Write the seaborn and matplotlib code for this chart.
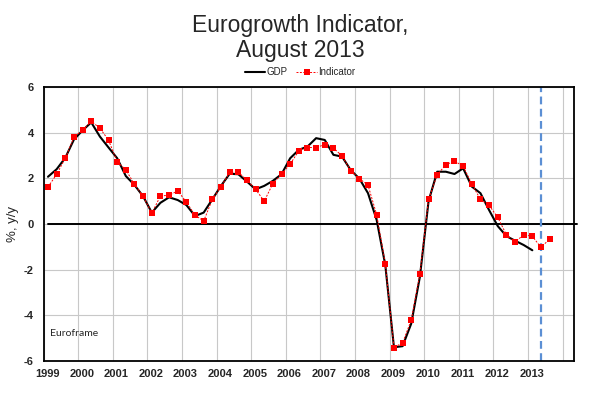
import pandas as pd
import numpy as np
import matplotlib
matplotlib.use("Agg")
import matplotlib.pyplot as plt
import matplotlib.transforms as mtrans
import seaborn as sns

# quarterly data, % y/y
quarters = pd.period_range("1999Q1", "2013Q3", freq="Q")
indicator = [1.62, 2.18, 2.88, 3.80, 4.12, 4.50, 4.20, 3.67,
             2.73, 2.37, 1.74, 1.21, 0.47, 1.23, 1.26, 1.45,
             0.96, 0.39, 0.13, 1.08, 1.64, 2.26, 2.27, 1.92,
             1.52, 1.00, 1.77, 2.18, 2.63, 3.20, 3.35, 3.35,
             3.48, 3.33, 2.98, 2.34, 1.99, 1.70, 0.41, -1.74,
             -5.41, -5.20, -4.21, -2.18, 1.08, 2.15, 2.60, 2.75,
             2.54, 1.75, 1.08, 0.82, 0.29, -0.47, -0.79, -0.47,
             -0.54, -1.02, -0.66]
gdp = [2.07, 2.40, 2.90, 3.70, 4.10, 4.45, 3.83, 3.35,
       2.88, 2.10, 1.71, 1.21, 0.50, 0.93, 1.17, 1.05,
       0.83, 0.35, 0.50, 1.08, 1.67, 2.20, 2.18, 1.86,
       1.52, 1.67, 1.89, 2.18, 2.88, 3.25, 3.39, 3.76,
       3.68, 3.03, 2.95, 2.36, 1.99, 1.35, 0.18, -1.80,
       -5.40, -5.35, -4.36, -2.31, 1.00, 2.29, 2.29, 2.19,
       2.44, 1.64, 1.35, 0.61, -0.09, -0.53, -0.73, -0.92,
       -1.15]
years = list(range(1999, 2014))
last_obs = pd.Period("2013Q2", freq="Q")

# mid-quarter position in decimal years
t = quarters.year + (quarters.quarter - 0.5) / 4
df_ind = pd.DataFrame({"t": t, "v": indicator})
df_gdp = pd.DataFrame({"t": t[:len(gdp)], "v": gdp})

sns.set_style("white")
plt.rcParams["font.family"] = ["Liberation Sans", "DejaVu Sans"]

fig = plt.figure(figsize=(6, 3.93), dpi=100)
ax = fig.add_axes([0.0728, 0.0814, 0.8839, 0.6972])

sns.lineplot(data=df_gdp, x="t", y="v", ax=ax, color="black", lw=1.5, label="GDP")
sns.lineplot(data=df_ind, x="t", y="v", ax=ax, color="red", lw=0.7,
             linestyle=(0, (2, 1.5)), marker="s", markersize=4.0,
             markeredgewidth=0, label="Indicator")

ax.axhline(0, xmin=0.008, xmax=1.005, color="black", lw=1.4, clip_on=False, zorder=1)
vx = last_obs.year + (last_obs.quarter - 0.5) / 4
ax.axvline(vx, color="#5b8fd4", lw=1.6, linestyle=(0, (3.5, 2)), zorder=1)

ax.set_xlim(1999, 2014.33)
ax.set_ylim(-6, 6)
ax.set_xticks(years + [2014])
ax.set_xticklabels([str(y) for y in years] + [""], fontsize=8, fontweight="bold")
ax.set_yticks(range(-6, 7, 2))
ax.set_yticklabels([str(v) for v in range(-6, 7, 2)], fontsize=8, fontweight="bold")
ax.tick_params(axis="x", length=0, pad=6)
ax.tick_params(axis="y", length=0, pad=7)
# excel puts the year labels a touch right of the gridline
shift = mtrans.ScaledTranslation(3.5 / 100, 0, fig.dpi_scale_trans)
for lab in ax.get_xticklabels():
    lab.set_transform(lab.get_transform() + shift)
ax.grid(True, color="#c8c8c8", lw=0.8)
ax.set_axisbelow(True)
for s in ax.spines.values():
    s.set_color("black")
    s.set_linewidth(1.3)
ax.set_xlabel("")
ax.set_ylabel("%, y/y", fontsize=9.5)
ax.yaxis.set_label_coords(-0.047, 0.5)

ax.text(0.012, 0.102, "Euroframe", transform=ax.transAxes, fontsize=7.5,
        family=["Lato", "DejaVu Sans"], va="center")

ax.get_legend().remove()
handles, labels = ax.get_legend_handles_labels()
fig.legend(handles, labels, loc="center", bbox_to_anchor=(0.5, 0.817),
           ncol=2, frameon=False, fontsize=7, handlelength=2.1,
           handletextpad=0.15, columnspacing=0.9)

fig.text(0.5, 0.919, "Eurogrowth Indicator,", ha="center", va="baseline", fontsize=16.5)
fig.text(0.5, 0.854, "August 2013", ha="center", va="baseline", fontsize=16.5)

fig.savefig("out.png", dpi=100)
